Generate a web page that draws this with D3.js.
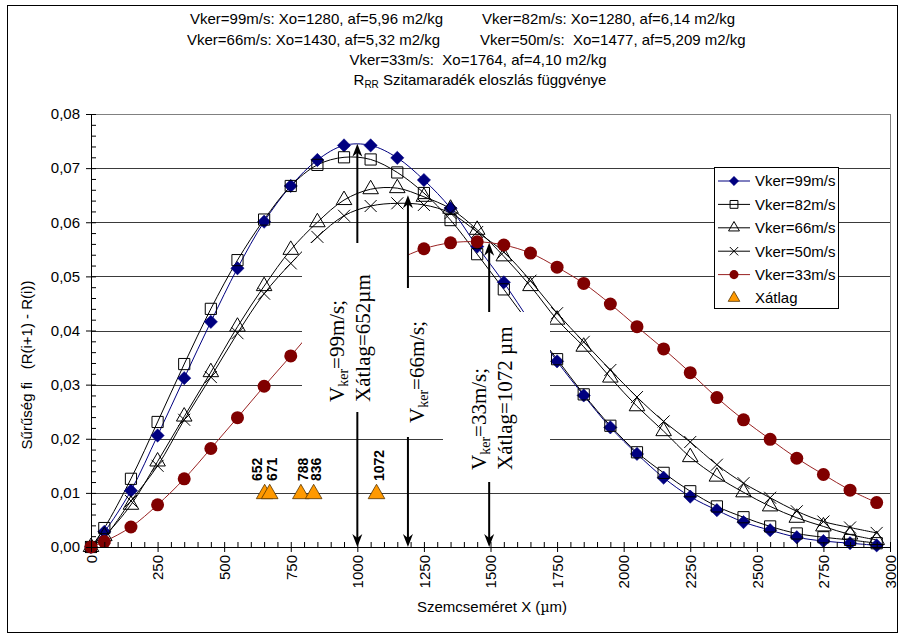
<!DOCTYPE html>
<html><head><meta charset="utf-8">
<script src="https://cdn.jsdelivr.net/npm/d3@7"></script>
<style>
body{margin:0;background:#fff}
svg{display:block}
text{font-family:"Liberation Sans",Arial,sans-serif;fill:#000;white-space:pre}
.serif{font-family:"Liberation Serif","Times New Roman",serif}
</style>
</head><body>
<svg id="c" width="906" height="643"></svg>
<script>
// ---------- data ----------
const xValues = [0,50,150,250,350,450,550,650,750,850,950,1050,1150,1250,1350,1450,1550,1650,1750,1850,1950,2050,2150,2250,2350,2450,2550,2650,2750,2850,2950];
const v99 = [0,0.0028,0.0104,0.0206,0.0312,0.0416,0.0515,0.0601,0.0667,0.0715,0.0742,0.0742,0.0719,0.0678,0.0626,0.0555,0.0489,0.0415,0.0343,0.0280,0.0221,0.0172,0.0128,0.0093,0.0068,0.0046,0.0031,0.0018,0.0011,0.0007,0.0003];
const v82 = [0,0.0035,0.0126,0.0231,0.0338,0.0440,0.0530,0.0605,0.0667,0.0706,0.0720,0.0716,0.0692,0.0654,0.0604,0.0541,0.0476,0.0410,0.0347,0.0282,0.0224,0.0175,0.0137,0.0103,0.0075,0.0055,0.0038,0.0025,0.0018,0.0013,0.0007];
const v66 = [0,0.0020,0.0078,0.0158,0.0241,0.0323,0.0407,0.0482,0.0549,0.0600,0.0641,0.0661,0.0663,0.0647,0.0625,0.0586,0.0537,0.0482,0.0420,0.0370,0.0313,0.0260,0.0214,0.0166,0.0130,0.0101,0.0075,0.0054,0.0038,0.0023,0.0013];
const v50 = [0,0.0018,0.0085,0.0150,0.0235,0.0314,0.0395,0.0468,0.0524,0.0573,0.0612,0.0630,0.0635,0.0632,0.0617,0.0582,0.0545,0.0492,0.0432,0.0379,0.0327,0.0277,0.0232,0.0194,0.0152,0.0118,0.0091,0.0066,0.0047,0.0036,0.0026];
const v33 = [0,0.0010,0.0037,0.0078,0.0126,0.0182,0.0239,0.0297,0.0353,0.0410,0.0460,0.0500,0.0530,0.0551,0.0562,0.0564,0.0558,0.0543,0.0517,0.0487,0.0449,0.0407,0.0366,0.0322,0.0276,0.0235,0.0199,0.0164,0.0134,0.0105,0.0082];
const seriesNames = ["Vker=99m/s","Vker=82m/s","Vker=66m/s","Vker=50m/s","Vker=33m/s"];
const avgName = "Xátlag";
const avgX = [652,671,788,836,1072];
const avgY = [0.01,0.01,0.01,0.01,0.01];
const avgLabels = ["652","671","788","836","1072"];
const yTicks = [0,0.01,0.02,0.03,0.04,0.05,0.06,0.07,0.08];
const xTicks = [0,250,500,750,1000,1250,1500,1750,2000,2250,2500,2750,3000];
const arrowX = [1000,1190,1495];
const arrowPeak = [0.0745,0.065,0.0562];
const titleLines = [
  ["Vker=99m/s: Xo=1280, af=5,96 m2/kg","Vker=82m/s: Xo=1280, af=6,14 m2/kg"],
  ["Vker=66m/s: Xo=1430, af=5,32 m2/kg","Vker=50m/s:  Xo=1477, af=5,209 m2/kg"],
  ["Vker=33m/s:  Xo=1764, af=4,10 m2/kg"]
];

// ---------- setup ----------
const svg = d3.select("#c");
const L=91,R=890,T=114,B=547;
const FS = 15;
const x = d3.scaleLinear().domain([0,3000]).range([L,R]);
const y = d3.scaleLinear().domain([0,0.08]).range([B,T]);
const fmt = d => d3.format(".2f")(d).replace(".",",");

// outer frame
svg.append("rect").attr("x",7.5).attr("y",5.5).attr("width",890).attr("height",627)
  .attr("fill","#fff").attr("stroke","#000").attr("stroke-width",1);

// title
const tl = svg.append("g").attr("font-size",FS);
tl.append("text").attr("x",190).attr("y",24).text(titleLines[0][0]);
tl.append("text").attr("x",482).attr("y",24).text(titleLines[0][1]);
tl.append("text").attr("x",187).attr("y",45).text(titleLines[1][0]);
tl.append("text").attr("x",480).attr("y",45).text(titleLines[1][1]);
tl.append("text").attr("x",478).attr("y",65).attr("text-anchor","middle").text(titleLines[2][0]);
const t4 = tl.append("text").attr("x",480).attr("y",85).attr("text-anchor","middle");
t4.append("tspan").text("R");
t4.append("tspan").attr("font-size",10).attr("dy",3).text("RR");
t4.append("tspan").attr("dy",-3).text(" Szitamaradék eloszlás függvénye");

// gridlines
svg.append("g").selectAll("line").data(yTicks.filter(d=>d>0&&d<0.08)).join("line")
  .attr("x1",L).attr("x2",R).attr("y1",d=>Math.round(y(d))+0.5).attr("y2",d=>Math.round(y(d))+0.5)
  .attr("stroke","#3a3a3a").attr("stroke-width",1);
// plot border top/right
svg.append("line").attr("x1",L).attr("x2",R).attr("y1",T+0.5).attr("y2",T+0.5).attr("stroke","#808080");
svg.append("line").attr("x1",R+0.5).attr("x2",R+0.5).attr("y1",T).attr("y2",B).attr("stroke","#808080");

// series
const allSeries = [v99,v82,v66,v50,v33];
const lineColors = ["#000080","#000","#000","#000","#992222"];
const line = d3.line().x((d,i)=>x(xValues[i])).y(d=>y(d)).curve(d3.curveCatmullRom.alpha(0.5));
const gl = svg.append("g").attr("fill","none");
allSeries.forEach((s,k)=>{
  gl.append("path").attr("d",line(s)).attr("stroke",lineColors[k]).attr("stroke-width",1);
});

function drawMarker(g,k,cx,cy,sc){
  sc = sc||1;
  if(k===0){
    g.append("path").attr("d",d3.symbol(d3.symbolSquare,88*sc*sc)())
      .attr("transform",`translate(${cx},${cy}) rotate(45)`).attr("fill","#000080").attr("stroke","#000080").attr("stroke-width",0.5);
  } else if(k===1){
    g.append("path").attr("d",d3.symbol(d3.symbolSquare,125*sc*sc)())
      .attr("transform",`translate(${cx},${cy})`).attr("fill","none").attr("stroke","#000").attr("stroke-width",1);
  } else if(k===2){
    g.append("path").attr("d",d3.symbol(d3.symbolTriangle,105*sc*sc)())
      .attr("transform",`translate(${cx},${cy})`).attr("fill","none").attr("stroke","#000").attr("stroke-width",1);
  } else if(k===3){
    const r=6*sc;
    g.append("path").attr("d",`M${-r},${-r}L${r},${r}M${-r},${r}L${r},${-r}`)
      .attr("transform",`translate(${cx},${cy})`).attr("fill","none").attr("stroke","#000").attr("stroke-width",1);
  } else if(k===4){
    g.append("circle").attr("cx",cx).attr("cy",cy).attr("r",6.5*sc).attr("fill","#800000");
  } else if(k===5){
    g.append("path").attr("d",d3.symbol(d3.symbolTriangle,120*sc*sc)())
      .attr("transform",`translate(${cx},${cy})`).attr("fill","#FF9900").attr("stroke","#553300").attr("stroke-width",0.8);
  }
}
const gm = svg.append("g");
allSeries.forEach((s,k)=>{
  s.forEach((v,i)=>drawMarker(gm,k,x(xValues[i]),y(v)));
});

// annotation boxes (white) over the curves
const boxes = [[302,243,106,169],[396,288,47,149],[443,312,107,170]];
svg.append("g").selectAll("rect").data(boxes).join("rect")
  .attr("x",d=>d[0]).attr("y",d=>d[1]).attr("width",d=>d[2]).attr("height",d=>d[3]).attr("fill","#fff");

// arrows
const ga = svg.append("g");
function arrowHead(px,py,dir){ // dir -1 up, +1 down
  const hl=13, hw=5, notch=9;
  return `M${px},${py}L${px-hw},${py-dir*hl}L${px},${py-dir*notch}L${px+hw},${py-dir*hl}Z`;
}
arrowX.forEach((a,i)=>{
  const ax = x(a), b = boxes[i];
  const tip = y(arrowPeak[i]);
  ga.append("line").attr("x1",ax).attr("x2",ax).attr("y1",b[1]).attr("y2",tip+8).attr("stroke","#000").attr("stroke-width",2);
  ga.append("path").attr("d",arrowHead(ax,tip,-1)).attr("fill","#000");
  ga.append("line").attr("x1",ax).attr("x2",ax).attr("y1",b[1]+b[3]).attr("y2",B-8).attr("stroke","#000").attr("stroke-width",2);
  ga.append("path").attr("d",arrowHead(ax,B,1)).attr("fill","#000");
});

// annotation texts
function vker(g,px,py,rest){
  const t = g.append("text").attr("class","serif").attr("font-size",21)
    .attr("transform",`translate(${px},${py}) rotate(-90)`);
  t.append("tspan").text("V");
  t.append("tspan").attr("font-size",14).attr("dy",4).text("ker");
  t.append("tspan").attr("dy",-4).text(rest);
}
function plain(g,px,py,txt){
  g.append("text").attr("class","serif").attr("font-size",21)
    .attr("transform",`translate(${px},${py}) rotate(-90)`).text(txt);
}
const gt = svg.append("g");
vker(gt,344,402,"=99m/s;");
plain(gt,370,402,"Xátlag=652µm");
vker(gt,424,423,"=66m/s;");
vker(gt,486,470,"=33m/s;");
plain(gt,512,470,"Xátlag=1072 µm");

// Xátlag points + labels
const gx = svg.append("g");
avgX.forEach((v,i)=>drawMarker(gx,5,x(v),y(avgY[i])+1));
avgX.forEach((v,i)=>{
  const nxt = avgX[i+1];
  const close = nxt!==undefined && (x(nxt)-x(v))<10;
  const cx = x(v) + (close?-8:2);
  gx.append("text").attr("font-size",14).attr("font-weight","bold")
    .attr("transform",`translate(${cx+5},481) rotate(-90)`).text(avgLabels[i]);
});

// axes
const yAxis = svg.append("g").attr("transform",`translate(${L},0)`)
  .call(d3.axisLeft(y).tickValues(yTicks).tickFormat(fmt).tickSize(5).tickPadding(6));
const yMinor = svg.append("g").attr("transform",`translate(${L},0)`)
  .call(d3.axisRight(y).tickValues(d3.range(0,41).map(i=>i*0.002)).tickFormat("").tickSize(5));
const xAxis = svg.append("g").attr("transform",`translate(0,${B})`)
  .call(d3.axisBottom(x).tickValues(xTicks).tickFormat(d3.format("d")).tickSize(5));
const xMinor = svg.append("g").attr("transform",`translate(0,${B})`)
  .call(d3.axisTop(x).tickValues(d3.range(0,61).map(i=>i*50)).tickFormat("").tickSize(5));
[yAxis,yMinor,xAxis,xMinor].forEach(g=>{
  g.select(".domain").attr("stroke","#000");
  g.selectAll(".tick line").attr("stroke","#000");
  g.selectAll("text").attr("font-size",FS).attr("font-family","Liberation Sans, Arial, sans-serif");
});
yMinor.select(".domain").remove();
xMinor.select(".domain").remove();
xAxis.selectAll(".tick text").attr("transform","rotate(-90)").attr("x",-8).attr("y",0)
  .attr("dy","0.35em").attr("text-anchor","end");

// axis titles
svg.append("text").attr("font-size",FS).attr("text-anchor","middle")
  .attr("transform","translate(32,365) rotate(-90)")
  .text("Sűrűség fi   (R(i+1) - R(i))");
const xt = svg.append("text").attr("font-size",FS).attr("text-anchor","middle").attr("x",492).attr("y",612);
xt.append("tspan").text("Szemcseméret X (");
xt.append("tspan").attr("font-family","DejaVu Serif, serif").attr("font-size",14).text("µ");
xt.append("tspan").text("m)");

// legend
const lg = svg.append("g");
lg.append("rect").attr("x",714.5).attr("y",167.5).attr("width",124).attr("height",141)
  .attr("fill","#fff").attr("stroke","#000");
const legNames = seriesNames.concat([avgName]);
legNames.forEach((n,i)=>{
  const cy = 181 + i*23.4;
  if(i<5) lg.append("line").attr("x1",718).attr("x2",750).attr("y1",cy).attr("y2",cy).attr("stroke",lineColors[i]);
  drawMarker(lg,i,734,cy,0.7);
  lg.append("text").attr("x",755).attr("y",cy).attr("dy","0.36em").attr("font-size",FS).text(n);
});
</script>
</body></html>
